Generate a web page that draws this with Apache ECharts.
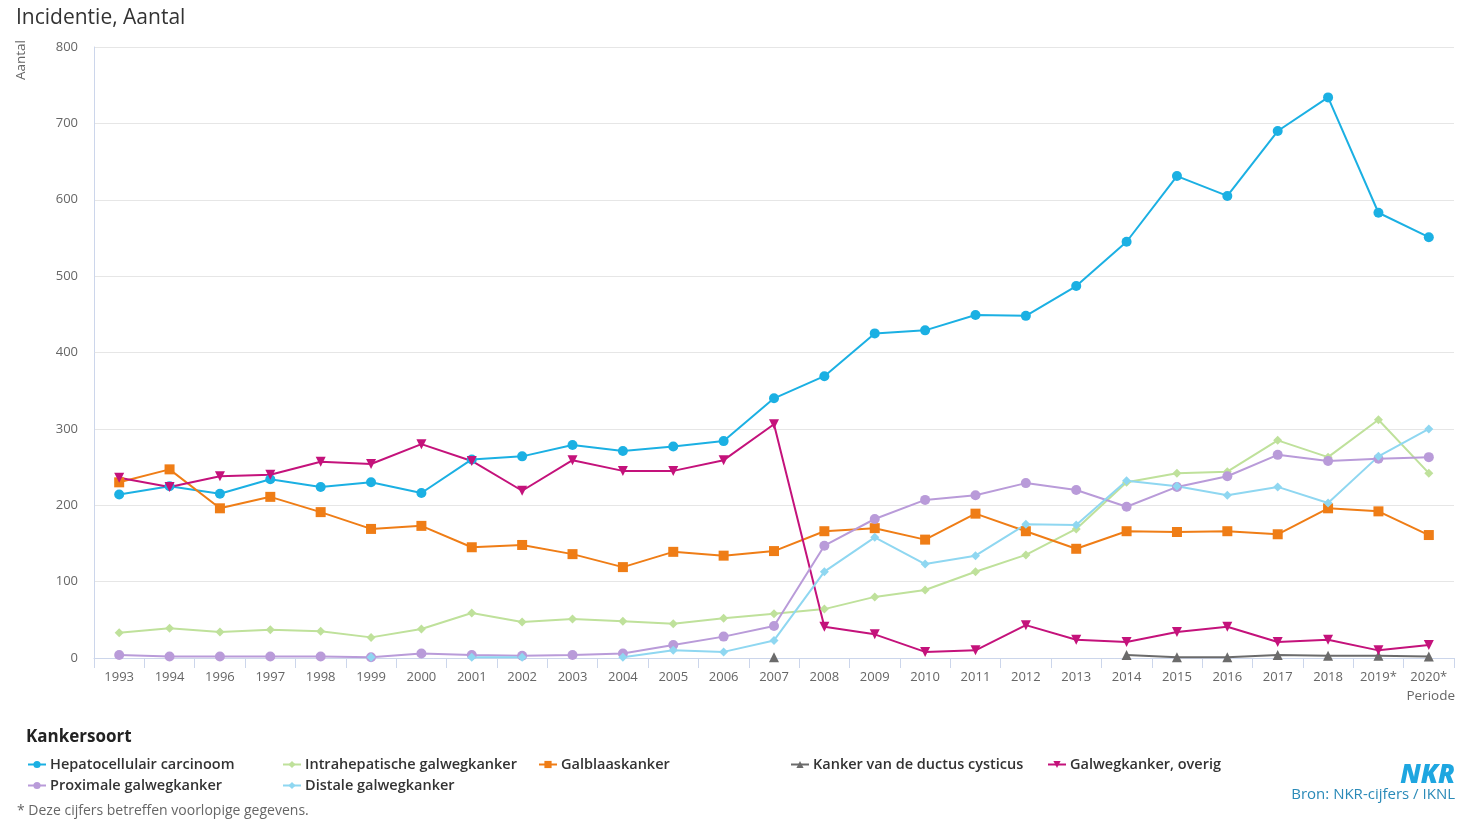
<!DOCTYPE html>
<html>
<head>
<meta charset="utf-8">
<script src="https://cdn.jsdelivr.net/npm/echarts@6/dist/echarts.min.js"></script>
<style>
  html, body { margin: 0; padding: 0; background: #ffffff; }
  #chart { width: 1458px; height: 819px; }
</style>
</head>
<body>
<div id="chart"></div>
<script>
// Jaren (1995 ontbreekt in de reeks)
const periodes = ['1993','1994','1996','1997','1998','1999','2000','2001','2002','2003','2004','2005','2006','2007','2008','2009','2010','2011','2012','2013','2014','2015','2016','2017','2018','2019*','2020*'];

const hepatocellulair = [214,225,215,234,224,230,216,260,264,279,271,277,284,340,369,425,429,449,448,487,545,631,605,690,734,583,551];
const intrahepatisch = [33,39,34,37,35,27,38,59,47,51,48,45,52,58,64,80,89,113,135,169,230,242,244,285,263,312,242];
const galblaas = [230,247,196,211,191,169,173,145,148,136,119,139,134,140,166,170,155,189,166,143,166,165,166,162,196,192,161];
const ductusCysticus = [null,null,null,null,null,null,null,null,null,null,null,null,null,1,null,null,null,null,null,null,4,1,1,4,3,3,2];
const galwegOverig = [236,224,238,240,257,254,280,258,219,259,245,245,259,306,41,31,8,10,43,24,21,34,41,21,24,10,17];
const proximaal = [4,2,2,2,2,1,6,4,3,4,6,17,28,42,147,182,207,213,229,220,198,224,238,266,258,261,263];
const distaal = [null,null,null,null,null,1,null,1,1,null,1,10,8,23,113,158,123,134,175,174,232,225,213,224,203,264,300];

const yTicks = { min: 0, max: 800, interval: 100 };

const FONT = '"Open Sans", "Noto Sans", sans-serif';

const reeksen = [
  { name: 'Hepatocellulair carcinoom', data: hepatocellulair, color: '#1bb0e3', symbol: 'circle', size: 10 },
  { name: 'Intrahepatische galwegkanker', data: intrahepatisch, color: '#bfe19b', symbol: 'diamond', size: 9 },
  { name: 'Galblaaskanker', data: galblaas, color: '#ef7d16', symbol: 'rect', size: 10 },
  { name: 'Kanker van de ductus cysticus', data: ductusCysticus, color: '#6b6b6b', symbol: 'triangle', size: 10 },
  { name: 'Galwegkanker, overig', data: galwegOverig, color: '#c4127b', symbol: 'triangle', size: 10, rotate: 180 },
  { name: 'Proximale galwegkanker', data: proximaal, color: '#b99bd9', symbol: 'circle', size: 10 },
  { name: 'Distale galwegkanker', data: distaal, color: '#8fd7f1', symbol: 'diamond', size: 9 }
];

// Legendaposities: vijf kolommen, twee rijen
const legendPlek = [
  [27, 757], [282, 757], [538, 757], [790, 757], [1047, 757],
  [27, 778], [282, 778]
];

const chart = echarts.init(document.getElementById('chart'), null, { renderer: 'canvas' });

chart.setOption({
  backgroundColor: '#ffffff',
  animation: false,
  title: {
    text: 'Incidentie, Aantal',
    left: 16, top: 8, padding: 0,
    textStyle: { fontFamily: FONT, fontSize: 21, fontWeight: 'normal', color: '#333333' }
  },
  grid: { left: 94, right: 4, top: 47, bottom: 161 },
  legend: reeksen.map((r, i) => ({
    data: [r.name],
    left: legendPlek[i][0],
    top: legendPlek[i][1],
    padding: 0,
    itemWidth: 18,
    itemHeight: 9,
    itemGap: 0,
    textStyle: { fontFamily: FONT, fontSize: 14.5, fontWeight: 600, color: '#333333', padding: [0, 0, 0, -1] }
  })),
  xAxis: {
    type: 'category',
    data: periodes,
    boundaryGap: true,
    axisLine: { lineStyle: { color: '#ccd6eb', width: 1 } },
    axisTick: { show: true, length: 10, lineStyle: { color: '#ccd6eb' } },
    axisLabel: { fontFamily: FONT, fontSize: 13, color: '#666666', margin: 13 },
    splitLine: { show: false }
  },
  yAxis: {
    type: 'value',
    min: yTicks.min, max: yTicks.max, interval: yTicks.interval,
    axisLine: { show: true, lineStyle: { color: '#ccd6eb' } },
    axisTick: { show: false },
    axisLabel: { fontFamily: FONT, fontSize: 13, color: '#666666', margin: 16 },
    splitLine: { lineStyle: { color: '#e6e6e6' } }
  },
  series: reeksen.map(r => ({
    name: r.name,
    type: 'line',
    data: r.data,
    connectNulls: false,
    symbol: r.symbol,
    symbolSize: r.size,
    symbolRotate: r.rotate || 0,
    showAllSymbol: true,
    color: r.color,
    lineStyle: { width: 2, color: r.color },
    itemStyle: { color: r.color, borderWidth: 0 }
  })),
  graphic: [
    {
      type: 'text', left: 14, top: 40, rotation: Math.PI / 2,
      style: { text: 'Aantal', font: '13.5px "Open Sans", sans-serif', fill: '#666666' }
    },
    {
      type: 'text', right: 3, top: 689,
      style: { text: 'Periode', font: '13.5px "Open Sans", sans-serif', fill: '#666666' }
    },
    {
      type: 'text', left: 26, top: 729,
      style: { text: 'Kankersoort', font: 'bold 17px "Open Sans", sans-serif', fill: '#222222' }
    },
    {
      type: 'text', left: 17, top: 804,
      style: { text: '* Deze cijfers betreffen voorlopige gegevens.', font: '14px "Open Sans", sans-serif', fill: '#666666' }
    },
    {
      type: 'text', right: 3, top: 763,
      style: { text: 'NKR', font: 'italic 900 26px "Open Sans", sans-serif', fill: '#1ea6e0' }
    },
    {
      type: 'text', right: 3, top: 787,
      style: { text: 'Bron: NKR-cijfers / IKNL', font: '15px "Open Sans", sans-serif', fill: '#2a8ab8' }
    }
  ]
});
</script>
</body>
</html>
